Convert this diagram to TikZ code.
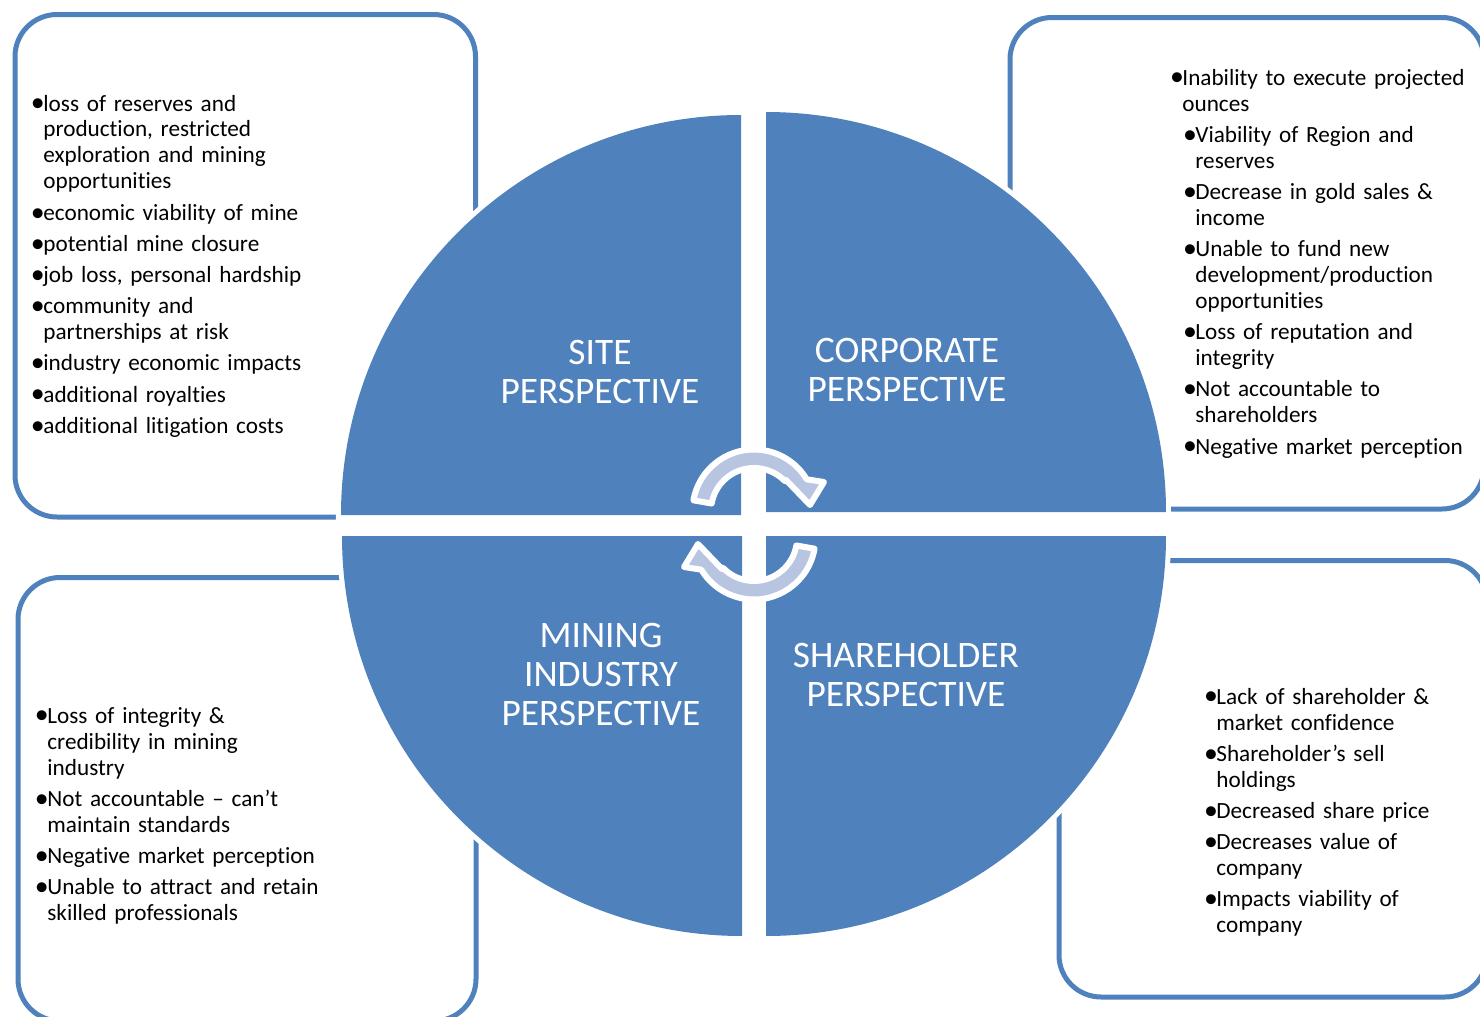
\documentclass[tikz,border=0pt]{standalone}
\usepackage{fontspec}
\setmainfont{Carlito}[Ligatures={TeX,NoCommon}]
\usetikzlibrary{positioning}

\definecolor{quadBlue}{RGB}{79,129,189}
\definecolor{arrowBlue}{RGB}{183,197,224}

%% one bullet point with hanging indent, optional extra left indent
\newcommand\riskitem[2][0pt]{\hangindent=\dimexpr#1+5pt\relax\hangafter=1
  \noindent\hspace*{#1}%
  \makebox[5pt][l]{\hspace*{-1.2pt}\raisebox{-0.4pt}{\scalebox{1.2}{\textbullet}}}#2\par}

\begin{document}
\begin{tikzpicture}
[x=0.5pt, y=-0.5pt,
  boxDecorate/.style={draw=quadBlue, line width=2.5pt, rounded corners=21pt},
  quadDecorate/.style={fill=quadBlue, preaction={draw=white, line width=5pt}},
  arrowDecorate/.style={fill=arrowBlue, draw=white, line width=3pt, line join=round},
  labelDecorate/.style={text=white, align=center, inner sep=0pt,
    font=\fontsize{18.7}{19.5}\selectfont},
  listDecorate/.style={anchor=base west, inner sep=0pt, text width=#1, align=left,
    font=\fontsize{11.6}{13}\selectfont,
    execute at begin node={\setlength\parskip{2.6pt}}}]
\useasboundingbox (0,0) rectangle (1480,1017);
\clip (0,0) rectangle (1480,1017);

%% outer frames
\draw[boxDecorate] (15,14.5) rectangle (475.5,517);
\draw[boxDecorate] (1010,17.5) rectangle (1484,509);
\draw[boxDecorate] (18,577.5) rectangle (476,1021);
\draw[boxDecorate] (1059,560.5) rectangle (1487,997);

%% four quarter discs: corner x / corner y / start angle
\foreach \cx/\cy/\a in {741/515/180, 766/512/270, 766/536/0, 742/536/90}
{
  \fill[quadDecorate] (\cx,\cy) -- ++(\a:400)
    arc[start angle=\a, end angle=\a+90, radius=400] -- cycle;
}

%% cycle arrows in the middle
\foreach \cy/\rot in {511/0, 538/180}
{
  \draw[arrowDecorate, shift={(754,\cy)}, rotate=\rot]
    (190:61.5) arc[start angle=190, end angle=329, radius=61.5]
    -- (70,-29) -- (56,-6) -- (32,-31) -- (316:43)
    arc[start angle=316, end angle=190, radius=43] -- cycle;
}

%% quadrant titles
\node[labelDecorate] (site) at (600,372) {SITE\\PERSPECTIVE};
\node[labelDecorate] (corporate) at (907,370) {CORPORATE\\PERSPECTIVE};
\node[labelDecorate] (mining) at (601,674) {MINING\\INDUSTRY\\PERSPECTIVE};
\node[labelDecorate] (shareholder) at (906,675) {SHAREHOLDER\\PERSPECTIVE};

%% bullet lists
\node[listDecorate=175pt] (siteList) at (33,111) {%
  \riskitem{loss of reserves and\newline production, restricted\newline
    exploration and mining\newline opportunities}
  \riskitem{economic viability of mine}
  \riskitem{potential mine closure}
  \riskitem{job loss, personal hardship}
  \riskitem{community and\newline partnerships at risk}
  \riskitem{industry economic impacts}
  \riskitem{additional royalties}
  \riskitem{additional litigation costs}};

\node[listDecorate=175pt] (corporateList) at (1172,85) {%
  \riskitem{Inability to execute projected\newline ounces}
  \riskitem[6.5pt]{Viability of Region and\newline reserves}
  \riskitem[6.5pt]{Decrease in gold sales \&\newline income}
  \riskitem[6.5pt]{Unable to fund new\newline development/production\newline opportunities}
  \riskitem[6.5pt]{Loss of reputation and\newline integrity}
  \riskitem[6.5pt]{Not accountable to\newline shareholders}
  \riskitem[6.5pt]{Negative market perception}};

\node[listDecorate=175pt] (miningList) at (37,723) {%
  \riskitem{Loss of integrity \&\newline credibility in mining\newline industry}
  \riskitem{Not accountable -- can’t\newline maintain standards}
  \riskitem{Negative market perception}
  \riskitem{Unable to attract and retain\newline skilled professionals}};

\node[listDecorate=150pt] (shareholderList) at (1206,704) {%
  \riskitem{Lack of shareholder \&\newline market confidence}
  \riskitem{Shareholder’s sell\newline holdings}
  \riskitem{Decreased share price}
  \riskitem{Decreases value of\newline company}
  \riskitem{Impacts viability of\newline company}};
\end{tikzpicture}
\end{document}
